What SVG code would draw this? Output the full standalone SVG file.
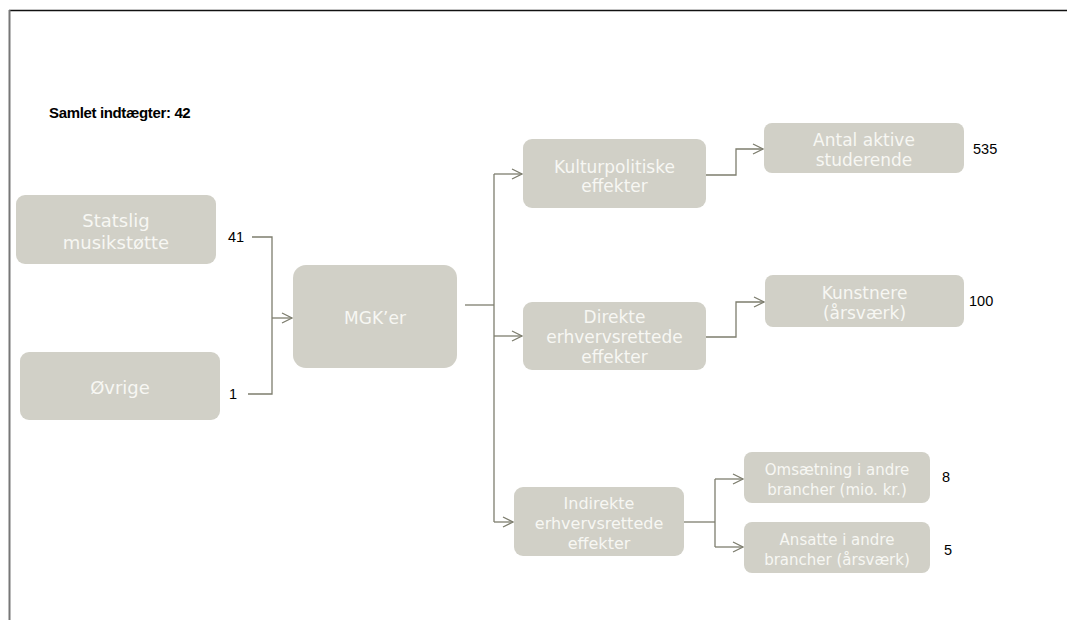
<svg xmlns="http://www.w3.org/2000/svg" width="1067" height="620" viewBox="0 0 1067 620">
<style>
.box{fill:#d1d0c7}
.nt{font-family:"DejaVu Sans",Verdana,sans-serif;fill:#f7f7f3;text-anchor:middle}
.num{font-family:"Liberation Sans",Arial,sans-serif;font-size:14.5px;fill:#000;dominant-baseline:middle}
.c{fill:none;stroke:#7d7d6e;stroke-width:1.3}
</style>
<defs>
<marker id="arr" markerUnits="userSpaceOnUse" markerWidth="14" markerHeight="14" refX="11" refY="6" orient="auto">
<path d="M1,1 L11,6 L1,11" fill="none" stroke="#7d7d6e" stroke-width="1.3"/>
</marker>
</defs>
<rect x="0" y="0" width="1067" height="620" fill="#fff"/>
<line x1="9" y1="10.5" x2="1067" y2="10.5" stroke="#111" stroke-width="1.3"/>
<line x1="9.5" y1="10" x2="9.5" y2="620" stroke="#777" stroke-width="2"/>
<text x="49" y="118" font-family="'Liberation Sans',Arial,sans-serif" font-weight="bold" font-size="15" letter-spacing="-0.35">Samlet indtægter: 42</text>

<g id="connectors">
<path class="c" d="M252,237 H272 V394 H248"/>
<path class="c" d="M272,318 H292" marker-end="url(#arr)"/>
<path class="c" d="M465,305 H494"/>
<path class="c" d="M494,174 V522"/>
<path class="c" d="M494,174 H522" marker-end="url(#arr)"/>
<path class="c" d="M494,336 H522" marker-end="url(#arr)"/>
<path class="c" d="M494,522 H513" marker-end="url(#arr)"/>
<path class="c" d="M706,175 H736 V149 H763" marker-end="url(#arr)"/>
<path class="c" d="M706,337 H736 V302 H764" marker-end="url(#arr)"/>
<path class="c" d="M684,522 H715" stroke-width="2.2"/>
<path class="c" d="M715,479 V547"/>
<path class="c" d="M715,479 H743" marker-end="url(#arr)"/>
<path class="c" d="M715,547 H743" marker-end="url(#arr)"/>
</g>

<g id="statslig">
<rect class="box" x="16" y="195" width="200" height="69" rx="9"/>
<text class="nt" font-size="18" x="116" y="227">Statslig</text>
<text class="nt" font-size="18" x="116" y="249">musikstøtte</text>
<text class="num" x="228" y="238">41</text>
</g>
<g id="ovrige">
<rect class="box" x="20" y="352" width="200" height="68" rx="9"/>
<text class="nt" font-size="18" x="120" y="394">Øvrige</text>
<text class="num" x="229" y="395">1</text>
</g>
<g id="mgk">
<rect class="box" x="293" y="265" width="164" height="103" rx="13"/>
<text class="nt" font-size="17" x="375" y="324">MGK’er</text>
</g>
<g id="kultur">
<rect class="box" x="523" y="139" width="183" height="69" rx="9"/>
<text class="nt" font-size="17" x="614.5" y="173">Kulturpolitiske</text>
<text class="nt" font-size="17" x="614.5" y="192">effekter</text>
</g>
<g id="direkte">
<rect class="box" x="523" y="302" width="183" height="68" rx="9"/>
<text class="nt" font-size="17" x="614.5" y="323">Direkte</text>
<text class="nt" font-size="17" x="614.5" y="343">erhvervsrettede</text>
<text class="nt" font-size="17" x="614.5" y="363">effekter</text>
</g>
<g id="indirekte">
<rect class="box" x="514" y="487" width="170" height="69" rx="9"/>
<text class="nt" font-size="16" x="599" y="509">Indirekte</text>
<text class="nt" font-size="16" x="599" y="529">erhvervsrettede</text>
<text class="nt" font-size="16" x="599" y="549">effekter</text>
</g>
<g id="antal">
<rect class="box" x="764" y="123" width="200" height="50" rx="8"/>
<text class="nt" font-size="17" x="864" y="146">Antal aktive</text>
<text class="nt" font-size="17" x="864" y="166">studerende</text>
<text class="num" x="973" y="150">535</text>
</g>
<g id="kunstnere">
<rect class="box" x="765" y="275" width="199" height="52" rx="8"/>
<text class="nt" font-size="17" x="864.5" y="299">Kunstnere</text>
<text class="nt" font-size="17" x="864.5" y="319">(årsværk)</text>
<text class="num" x="969" y="302">100</text>
</g>
<g id="omsaetning">
<rect class="box" x="744" y="452" width="186" height="51" rx="8"/>
<text class="nt" font-size="15" x="837" y="475">Omsætning i andre</text>
<text class="nt" font-size="15" x="837" y="495">brancher (mio. kr.)</text>
<text class="num" x="942" y="478">8</text>
</g>
<g id="ansatte">
<rect class="box" x="744" y="522" width="186" height="51" rx="8"/>
<text class="nt" font-size="15" x="837" y="545">Ansatte i andre</text>
<text class="nt" font-size="15" x="837" y="565">brancher (årsværk)</text>
<text class="num" x="944" y="551">5</text>
</g>
</svg>
